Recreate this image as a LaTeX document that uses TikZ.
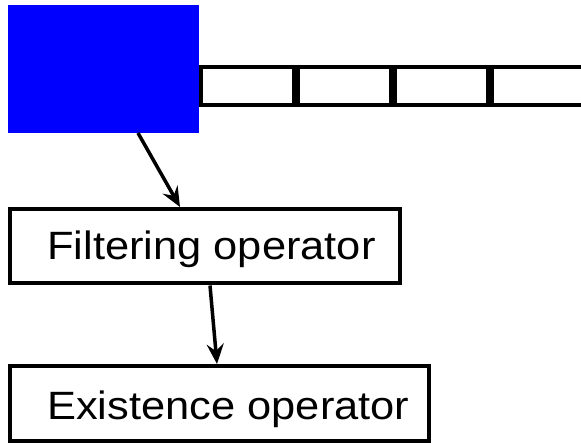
\documentclass[tikz,border=0pt]{standalone}
\usepackage{fontspec}
\setmainfont{Liberation Sans}[FakeStretch=1.1]
\usetikzlibrary{arrows.meta,positioning}

\begin{document}
\begin{tikzpicture}[
  x=1pt, y=-1pt,
  font=\fontsize{39.5}{40}\selectfont,
  blk/.style={fill=blue, inner sep=0pt, outer sep=0pt},
  cell/.style={draw, line width=4pt, inner sep=0pt, minimum width=93pt, minimum height=38pt},
  opbox/.style={draw, line width=4pt, inner sep=0pt},
  optext/.style={inner sep=0pt, anchor=base west},
  arr/.style={-{Stealth[length=20pt, width=17pt, inset=7pt]}, line width=3.5pt}
]
\useasboundingbox (0,0) rectangle (581,443);

% ---- Source block and queue ----
\node[blk, minimum width=191pt, minimum height=128pt, anchor=north west] (src) at (8,5) {};
\node[cell, anchor=west] (c1) at (199,86) {};
\node[cell, right=0pt of c1] (c2) {};
\node[cell, right=0pt of c2] (c3) {};
\node[cell, right=0pt of c3] (c4) {};

% ---- Operators ----
\node[opbox, minimum width=390pt, minimum height=74.5pt, anchor=north west] (filt) at (8,207) {};
\node[optext] (filttxt) at ([xshift=39pt, yshift=-13.25pt]filt.west) {Filtering operator};

\node[opbox, minimum width=419pt, minimum height=75pt, anchor=north west] (exis) at (8,364) {};
\node[optext] (existxt) at ([xshift=39pt, yshift=-16.5pt]exis.west) {Existence operator};

% ---- Flow ----
\draw[arr] ([xshift=34.5pt]src.south) -- ([xshift=-25pt]filt.north);
\draw[arr] ([xshift=5pt]filt.south) -- ([xshift=-2.5pt]exis.north);

\end{tikzpicture}
\end{document}
